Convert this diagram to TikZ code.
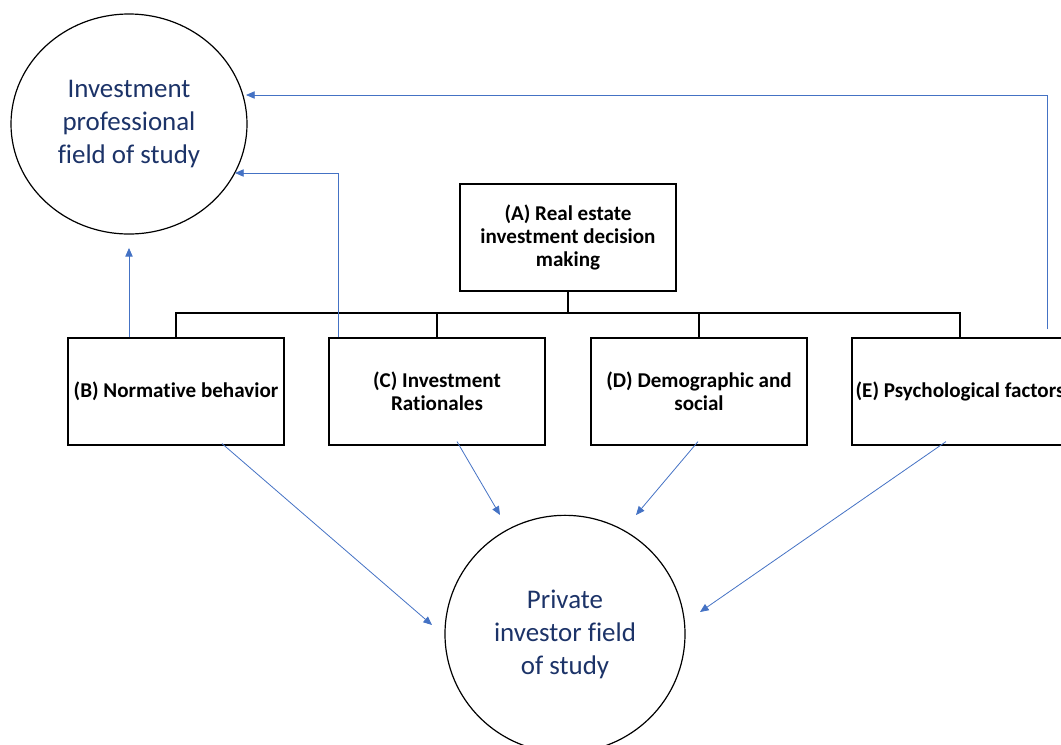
\documentclass[tikz,border=0pt]{standalone}
\usepackage{fontspec}
\setmainfont{Carlito}[Ligatures=NoCommon]
\usetikzlibrary{arrows.meta,shapes.geometric,calc}
\definecolor{arrowblue}{HTML}{4472C4}
\definecolor{navytext}{HTML}{1C3368}
\begin{document}
\begin{tikzpicture}[x=0.75pt,y=-0.75pt,
  field/.style={draw=black,line width=0.9pt,ellipse,inner sep=0pt,
    text=navytext,font=\fontsize{20.2}{24.8}\selectfont,align=center},
  topbox/.style={draw=black,line width=1.1pt,minimum width=162pt,minimum height=80pt,
    inner sep=0pt,font=\bfseries\fontsize{15.8}{17.4}\selectfont,align=center},
  tree/.style={draw=black,line width=1.1pt},
  link/.style={draw=arrowblue,line width=0.6pt,-{Triangle[length=6.5pt,width=5.5pt]}}]
\useasboundingbox (0,0) rectangle (1061,744);
\clip (0,0) rectangle (1061,744);

% the two fields of study
\node[field,minimum width=177pt,minimum height=165pt] (P) at (129,124)
  {Investment\\professional\\field of study};
\node[field,minimum width=180pt,minimum height=178pt] (Q) at (565,634)
  {Private\\investor field\\of study};

% decision-making tree
\node[topbox] (A) at (568,237.5) {(A) Real estate\\investment decision\\making};
\node[topbox] (B) at (176,391.5) {(B) Normative behavior};
\node[topbox] (C) at (437,391.5) {(C) Investment\\Rationales};
\node[topbox] (D) at (699,391.5) {(D) Demographic and\\social};
\node[topbox] (E) at (960,391.5) {(E) Psychological factors};

\coordinate (bus) at (568,313);
\draw[tree] (A.south) -- (bus);
\draw[tree] (B.north) |- (bus) -| (E.north);
\draw[tree] (C.north) -- (C.north |- bus);
\draw[tree] (D.north) -- (D.north |- bus);

% feedback links to the professional field
\coordinate (bs) at ($(B.north)+(-47,0)$);
\draw[link,shorten >=10pt] (bs) -- (bs |- P.south);
\coordinate (cs) at ($(C.north west)+(10,0)$);
\draw[link] (cs) |- ($(P.center)+(106,49)$);
\coordinate (es) at ($(E.north)+(87,-8)$);
\draw[link] (es) |- ($(P.center)+(117,-29)$);

% links to the private investor field
\draw[link] ($(B.south)+(46,-2)$) -- ($(Q.center)+(-133,-9)$);
\draw[link] ($(C.south)+(20,-4)$) -- ($(Q.center)+(-65,-119)$);
\draw[link] ($(D.south)+(-1,-4)$) -- ($(Q.center)+(71,-119)$);
\draw[link] ($(E.south)+(-14,-4)$) -- ($(Q.center)+(135,-22)$);
\end{tikzpicture}
\end{document}
